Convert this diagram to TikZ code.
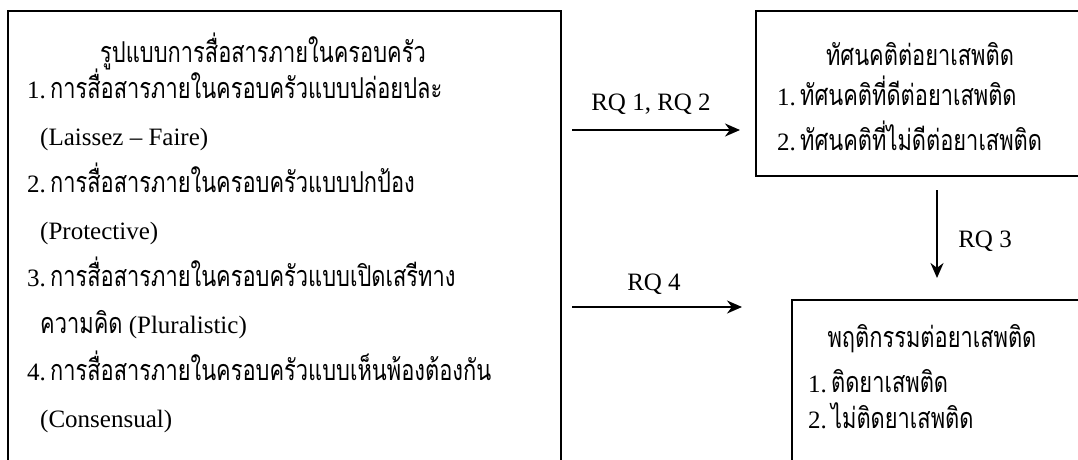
\documentclass[tikz,border=0pt]{standalone}
\usepackage{fontspec}
\setmainfont{Liberation Serif}
\newfontfamily\thai[Script=Thai,Scale=1.15,FakeStretch=0.76]{Loma}
\usetikzlibrary{arrows.meta}
\tikzset{
  box/.style={draw=black, line width=2pt, fill=none, inner sep=0pt, anchor=north west},
  txt/.style={inner sep=0pt, anchor=base west, font=\fontsize{25}{30}\selectfont},
  ttl/.style={inner sep=0pt, anchor=base, font=\fontsize{25}{30}\selectfont},
  conn/.style={line width=2pt, -{Stealth[length=15pt,width=13pt]}},
}
\begin{document}
\begin{tikzpicture}[x=1pt,y=-1pt]
\clip (0,0) rectangle (1078,459);
\fill[white] (0,0) rectangle (1078,459);
% boxes
\node[box, minimum width=553pt, minimum height=480pt] (lbox) at (7,10) {};
\node[box, minimum width=360pt, minimum height=165pt] (abox) at (755,10) {};
\node[box, minimum width=320pt, minimum height=200pt] (bbox) at (791,299) {};
% left box text
\node[ttl] (lt) at (263,62) {\thai รูปแบบการสื่อสารภายในครอบครัว};
\node[txt] (l1) at (27,98) {1.\,{\thai การสื่อสารภายในครอบครัวแบบปล่อยปละ}};
\node[txt] (l1b) at (40,145) {(Laissez – Faire)};
\node[txt] (l2) at (27,192) {2.\,{\thai การสื่อสารภายในครอบครัวแบบปกป้อง}};
\node[txt] (l2b) at (40,239) {(Protective)};
\node[txt] (l3) at (27,286) {3.\,{\thai การสื่อสารภายในครอบครัวแบบเปิดเสรีทาง}};
\node[txt] (l3b) at (40,333) {{\thai ความคิด} (Pluralistic)};
\node[txt] (l4) at (27,380) {4.\,{\thai การสื่อสารภายในครอบครัวแบบเห็นพ้องต้องกัน}};
\node[txt] (l4b) at (40,427) {(Consensual)};
% attitude box text
\node[ttl] (at) at (920,65) {\thai ทัศนคติต่อยาเสพติด};
\node[txt] (a1) at (777,105) {1.\,{\thai ทัศนคติที่ดีต่อยาเสพติด}};
\node[txt] (a2) at (777,150) {2.\,{\thai ทัศนคติที่ไม่ดีต่อยาเสพติด}};
% behaviour box text
\node[ttl] (bt) at (932,347) {\thai พฤติกรรมต่อยาเสพติด};
\node[txt] (b1) at (808,392) {1.\,{\thai ติดยาเสพติด}};
\node[txt] (b2) at (808,428) {2.\,{\thai ไม่ติดยาเสพติด}};
% connectors
\coordinate (r12s) at (572,130);
\coordinate (r12e) at (740,130);
\coordinate (r4s) at (572,307);
\coordinate (r4e) at (742,307);
\coordinate (r3s) at (937,190);
\coordinate (r3e) at (937,278);
\draw[conn] (r12s) -- (r12e);
\draw[conn] (r4s) -- (r4e);
\draw[conn] (r3s) -- (r3e);
\node[ttl] (q12) at (651,110) {RQ 1, RQ 2};
\node[ttl] (q4) at (654,290) {RQ 4};
\node[ttl] (q3) at (985,247) {RQ 3};
\end{tikzpicture}
\end{document}
